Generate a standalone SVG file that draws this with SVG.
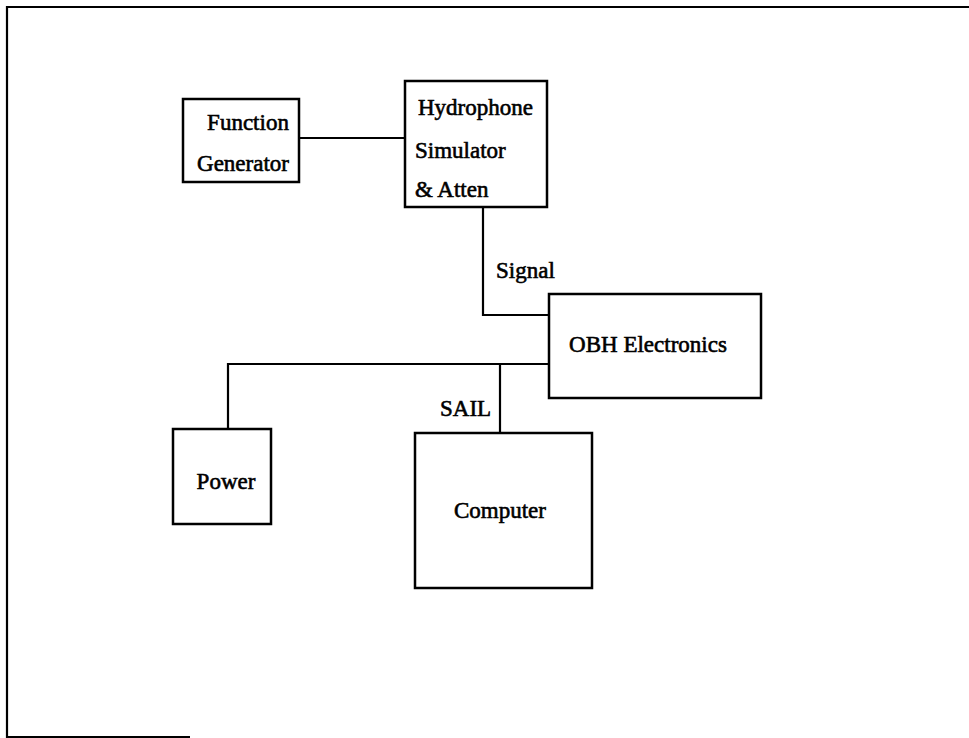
<svg xmlns="http://www.w3.org/2000/svg" width="969" height="738" viewBox="0 0 969 738">
<style>
.box{fill:#fff;stroke:#000;stroke-width:2.5}
.ln{fill:none;stroke:#000;stroke-width:2.2}
.lbl{font-family:"Liberation Serif","Times New Roman",serif;font-size:23px;fill:#000;stroke:#000;stroke-width:0.6}
</style>
<rect width="969" height="738" fill="#fff"/>
<path class="ln" d="M970 7 H7 V737 H190" stroke-width="2.6"/>
<g id="connectors">
<path class="ln" d="M299 138 H405"/>
<path class="ln" d="M483 207 V315 H549"/>
<path class="ln" d="M549 364 H228 V429"/>
<path class="ln" d="M500 364 V433"/>
<text class="lbl" x="496" y="278">Signal</text>
<text class="lbl" x="440" y="416">SAIL</text>
</g>
<g id="function-generator">
<rect class="box" x="183" y="99" width="116" height="83"/>
<text class="lbl" x="248" y="130" text-anchor="middle">Function</text>
<text class="lbl" x="243" y="171" text-anchor="middle">Generator</text>
</g>
<g id="hydrophone-simulator">
<rect class="box" x="405" y="81" width="142" height="126"/>
<text class="lbl" x="418" y="115">Hydrophone</text>
<text class="lbl" x="415" y="158">Simulator</text>
<text class="lbl" x="415" y="197">&amp; Atten</text>
</g>
<g id="obh-electronics">
<rect class="box" x="549" y="294" width="212" height="104"/>
<text class="lbl" x="648" y="352" text-anchor="middle">OBH Electronics</text>
</g>
<g id="power">
<rect class="box" x="173" y="429" width="98" height="95"/>
<text class="lbl" x="226" y="489" text-anchor="middle">Power</text>
</g>
<g id="computer">
<rect class="box" x="415" y="433" width="177" height="155"/>
<text class="lbl" x="500" y="518" text-anchor="middle">Computer</text>
</g>
</svg>
